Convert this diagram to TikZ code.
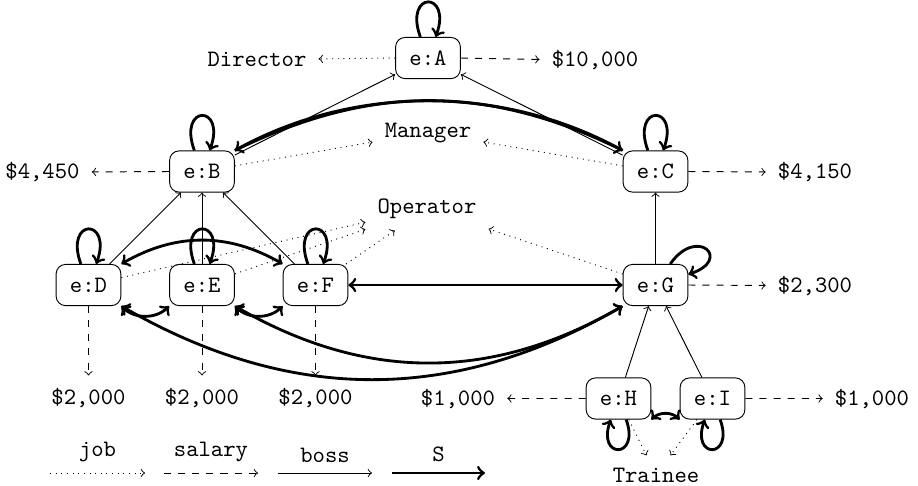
\documentclass[tikz,border=0pt]{standalone}
\begin{document}
\begin{tikzpicture}[x=0.425pt,y=0.425pt,
  emp/.style={draw, rounded corners=4pt, minimum width=27.5pt,
    minimum height=17.5pt, inner sep=2pt, font=\ttfamily},
  lab/.style={inner sep=5pt, font=\ttfamily, anchor=base},
  job/.style={->, dotted},
  salary/.style={->, dashed},
  boss/.style={->},
  S/.style={->, very thick},
  SS/.style={<->, very thick},
  self/.style={->, very thick, min distance=21pt},
  legend/.style={above=1pt, font=\ttfamily},
]
\useasboundingbox (0,0) rectangle (918,-485);

% employees
\node[emp] (A) at (428,-58)    {e:A};
\node[emp] (B) at (202,-171.5) {e:B};
\node[emp] (C) at (655.5,-171.5) {e:C};
\node[emp] (D) at (88.5,-285)  {e:D};
\node[emp] (E) at (202,-285)   {e:E};
\node[emp] (F) at (315.5,-285) {e:F};
\node[emp] (G) at (655.5,-285) {e:G};
\node[emp] (H) at (618.5,-398.5) {e:H};
\node[emp] (I) at (712.5,-398.5) {e:I};

% jobs
\node[lab] (dir) at (257,-66)   {Director};
\node[lab] (man) at (428,-137)  {Manager};
\node[lab] (op)  at (427,-213)  {Operator};
\node[lab] (tr)  at (656,-482)  {Trainee};

% salaries
\node[lab] (s10)   at (595,-66)     {\$10,000};
\node[lab] (s4450) at (42.5,-178.5) {\$4,450};
\node[lab] (s4150) at (815,-178.5)  {\$4,150};
\node[lab] (s2300) at (815,-292)    {\$2,300};
\node[lab] (s2d)   at (88.5,-404)   {\$2,000};
\node[lab] (s2e)   at (202,-404)    {\$2,000};
\node[lab] (s2f)   at (315.5,-404)  {\$2,000};
\node[lab] (s1h)   at (458,-405)    {\$1,000};
\node[lab] (s1i)   at (872,-405)    {\$1,000};

% job edges
\draw[job] (A.west) -- (dir.east);
\draw[job] (B) -- (man);
\draw[job] (C) -- (man);
\draw[job] (D) -- (op);
\draw[job] (E) -- (op);
\draw[job] (F) -- (op);
\draw[job] (G) -- (op);
\draw[job] (H) -- (tr);
\draw[job] (I) -- (tr);

% salary edges
\draw[salary] (A.east) -- (s10.west);
\draw[salary] (B.west) -- (s4450.east);
\draw[salary] (C.east) -- (s4150.west);
\draw[salary] (G.east) -- (s2300.west);
\draw[salary] (D) -- (s2d);
\draw[salary] (E) -- (s2e);
\draw[salary] (F) -- (s2f);
\draw[salary] (H.west) -- (s1h.east);
\draw[salary] (I.east) -- (s1i.west);

% boss edges
\draw[boss] (B) -- (A);
\draw[boss] (C) -- (A);
\draw[boss] (D) -- (B);
\draw[boss] (E) -- (B);
\draw[boss] (F) -- (B);
\draw[boss] (G) -- (C);
\draw[boss] (H) -- (G);
\draw[boss] (I) -- (G);

% S relation
\draw[S] (B.north east) to[bend left=26] (C.north west);
\draw[S] (C.north west) to[bend right=29, looseness=0.9] (B.north east);
\draw[SS] (D.north east) to[bend left=30] (F.north west);
\draw[SS] (D.south east) to[bend right=45] (E.south west);
\draw[SS] (E.south east) to[bend right=45] (F.south west);
\draw[SS] (F) -- (G);
\draw[SS] (D.south east) to[bend right=30] (G.south west);
\draw[SS] (E.south east) to[bend right=30] (G.south west);
\draw[SS] (H.south east) to[bend left=45] (I.south west);

% self loops
\foreach \n in {A,B,C,D,E,F}
  \draw[self] (\n) to[out=110,in=70] (\n);
\draw[self] (G) to[out=55,in=18,min distance=20pt] (G);
\draw[self] (H) to[out=290,in=250,min distance=18pt] (H);
\draw[self] (I) to[out=290,in=250,min distance=18pt] (I);

% legend
\coordinate (j1)  at (50,-473);
\coordinate (j2)  at (145,-473);
\coordinate (sa1) at (164,-473);
\coordinate (sa2) at (258,-473);
\coordinate (b1)  at (278,-473);
\coordinate (b2)  at (372,-473);
\coordinate (r1)  at (392,-473);
\coordinate (r2)  at (485,-473);
\draw[job]    (j1)  -- node[legend] {job} (j2);
\draw[salary] (sa1) -- node[legend] {salary} (sa2);
\draw[boss]   (b1)  -- node[legend] {boss} (b2);
\draw[S]      (r1)  -- node[legend] {S} (r2);
\end{tikzpicture}
\end{document}
